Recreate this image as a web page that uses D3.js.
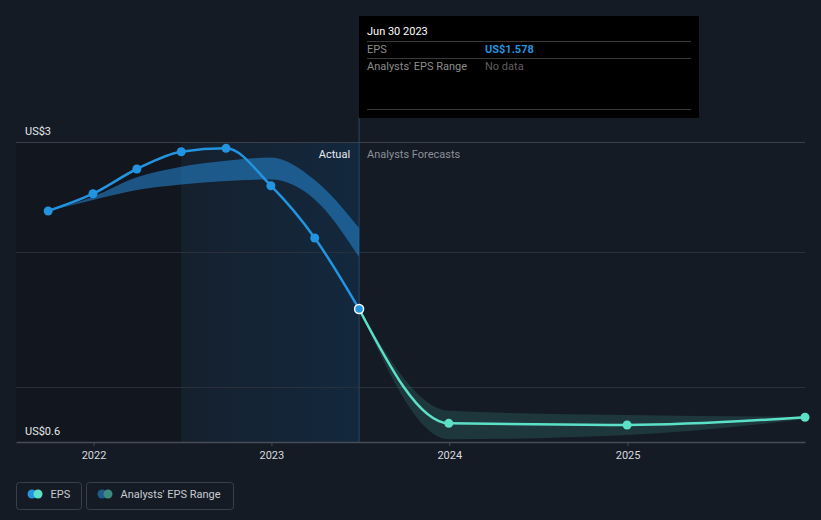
<!DOCTYPE html>
<html>
<head>
<meta charset="utf-8">
<script src="https://cdn.jsdelivr.net/npm/d3@7"></script>
<style>
  html, body { margin: 0; padding: 0; background: #151b25; }
  svg { display: block; font-family: Roboto, "Open Sans", sans-serif; }
</style>
</head>
<body>
<svg id="chart" width="821" height="520"></svg>
<script>
// ---------- data ----------
const pastDates = ["2021-09-30","2021-12-31","2022-03-31","2022-06-30","2022-09-30","2022-12-31","2023-03-31","2023-06-30"];
const pastEPS   = [2.304, 2.432, 2.615, 2.743, 2.768, 2.491, 2.104, 1.578];

const pastRangeDates = ["2021-09-30","2021-12-31","2022-03-31","2022-06-30","2022-09-30","2022-12-31","2023-03-31","2023-06-30"];
const pastRangeLow   = [2.304, 2.385, 2.459, 2.500, 2.526, 2.537, 2.390, 1.963];
const pastRangeHigh  = [2.304, 2.410, 2.553, 2.632, 2.676, 2.700, 2.533, 2.178];

const fcDates = ["2023-06-30","2023-12-31","2024-12-31","2025-12-31"];
const fcEPS   = [1.578, 0.731, 0.719, 0.776];
const fcLow   = [1.578, 0.613, 0.644, 0.761];
const fcHigh  = [1.578, 0.824, 0.793, 0.780];

const yTickValues = [2.815, 0.593];
const yTickLabels = ["US$3", "US$0.6"];
const gridValues  = [2, 1];
const xTickYears  = ["2022","2023","2024","2025"];

const tooltipDate = "Jun 30 2023";
const tooltipEPS  = "US$1.578";
const tooltipRange = "No data";

// ---------- setup ----------
const parse = d3.timeParse("%Y-%m-%d");
const svg = d3.select("#chart");
const W = 821, H = 520;
const pL = 16, pR = 805, pT = 142, pB = 442;

const x = d3.scaleTime()
  .domain([parse("2021-07-26"), parse("2025-12-31")])
  .range([pL, pR]);
const y = d3.scaleLinear()
  .domain([0.593, 2.815])
  .range([pB, pT]);

svg.append("rect").attr("width", W).attr("height", H).attr("fill", "#151b25");

const defs = svg.append("defs");
const grad = defs.append("linearGradient").attr("id", "hl").attr("x1", "0").attr("x2", "1").attr("y1", "0").attr("y2", "0");
grad.append("stop").attr("offset", "0%").attr("stop-color", "#15202d");
grad.append("stop").attr("offset", "100%").attr("stop-color", "#13283e");

const splitStart = parse("2022-06-30");
const nowDate = parse("2023-06-30");

// darker past region
svg.append("rect")
  .attr("x", pL).attr("y", pT)
  .attr("width", x(splitStart) - pL).attr("height", pB - pT)
  .attr("fill", "#12161e");
// highlighted last-year region
svg.append("rect")
  .attr("x", x(splitStart)).attr("y", pT)
  .attr("width", x(nowDate) - x(splitStart)).attr("height", pB - pT)
  .attr("fill", "url(#hl)");

// grid lines
svg.append("line").attr("x1", pL).attr("x2", pR).attr("y1", Math.round(y(2.815)) + 0.5).attr("y2", Math.round(y(2.815)) + 0.5)
  .attr("stroke", "#3a404a").attr("stroke-width", 1);
svg.selectAll("line.grid").data(gridValues).enter().append("line")
  .attr("class", "grid")
  .attr("x1", pL).attr("x2", pR)
  .attr("y1", d => Math.round(y(d)) + 0.5).attr("y2", d => Math.round(y(d)) + 0.5)
  .attr("stroke", "#2a303a").attr("stroke-width", 1);

// divider line
svg.append("line")
  .attr("x1", x(nowDate)).attr("x2", x(nowDate))
  .attr("y1", 117).attr("y2", pB)
  .attr("stroke", "#2b4563").attr("stroke-width", 1);

// x axis
const xAxis = d3.axisBottom(x)
  .tickValues(xTickYears.map(s => parse(s + "-01-01")))
  .tickFormat(d3.timeFormat("%Y"))
  .tickSize(4).tickSizeOuter(0);
const gx = svg.append("g").attr("transform", `translate(0,${pB})`).call(xAxis);
gx.select(".domain").attr("stroke", "#474d58").attr("stroke-width", 1.5);
gx.selectAll(".tick line").attr("stroke", "#474d58");
gx.selectAll(".tick text").attr("fill", "#d8dadf").attr("font-size", 11).attr("dy", "0.9em")
  .attr("font-family", "Roboto, sans-serif");

// y labels
svg.selectAll("text.ylab").data(yTickValues).enter().append("text")
  .attr("class", "ylab")
  .attr("x", 25)
  .attr("y", d => y(d) - 7)
  .attr("fill", "#e6e8eb").attr("font-size", 11)
  .text((d, i) => yTickLabels[i]);

// ---------- bands ----------
const pastBand = pastRangeDates.map((d, i) => ({ d: parse(d), lo: pastRangeLow[i], hi: pastRangeHigh[i] }));
const fcBand = fcDates.map((d, i) => ({ d: parse(d), lo: fcLow[i], hi: fcHigh[i] }));
const area = d3.area().x(p => x(p.d)).y0(p => y(p.lo)).y1(p => y(p.hi)).curve(d3.curveMonotoneX);

svg.append("path").datum(pastBand).attr("d", area).attr("fill", "#2380c8").attr("fill-opacity", 0.6);
svg.append("path").datum(fcBand).attr("d", area).attr("fill", "#4fc6b4").attr("fill-opacity", 0.17);

// ---------- lines ----------
const past = pastDates.map((d, i) => ({ d: parse(d), v: pastEPS[i] }));
const fc = fcDates.map((d, i) => ({ d: parse(d), v: fcEPS[i] }));
const line = d3.line().x(p => x(p.d)).y(p => y(p.v)).curve(d3.curveMonotoneX);

svg.append("path").datum(fc).attr("d", line).attr("fill", "none").attr("stroke", "#5ce1c8").attr("stroke-width", 2.5);
svg.append("path").datum(past).attr("d", line).attr("fill", "none").attr("stroke", "#2394df").attr("stroke-width", 2.5);

svg.selectAll("circle.fc").data(fc.slice(1)).enter().append("circle")
  .attr("cx", p => x(p.d)).attr("cy", p => y(p.v)).attr("r", 4.5).attr("fill", "#5ce1c8");
svg.selectAll("circle.past").data(past.slice(0, -1)).enter().append("circle")
  .attr("cx", p => x(p.d)).attr("cy", p => y(p.v)).attr("r", 4.5).attr("fill", "#2394df");
const last = past[past.length - 1];
svg.append("circle").attr("cx", x(last.d)).attr("cy", y(last.v)).attr("r", 4.5)
  .attr("fill", "#2394df").attr("stroke", "#ffffff").attr("stroke-width", 1.5);

// ---------- labels ----------
svg.append("text").attr("x", x(nowDate) - 9).attr("y", 158).attr("text-anchor", "end")
  .attr("fill", "#e8eaee").attr("font-size", 11).text("Actual");
svg.append("text").attr("x", x(nowDate) + 8).attr("y", 158)
  .attr("fill", "#8a9099").attr("font-size", 11).text("Analysts Forecasts");

// ---------- tooltip ----------
const tt = svg.append("g");
tt.append("rect").attr("x", 359).attr("y", 16).attr("width", 340).attr("height", 102).attr("fill", "#000000");
tt.append("text").attr("x", 367).attr("y", 35).attr("fill", "#ffffff").attr("font-size", 11).text(tooltipDate);
tt.append("line").attr("x1", 367).attr("x2", 691).attr("y1", 41.5).attr("y2", 41.5).attr("stroke", "#3a3a3a");
tt.append("text").attr("x", 367).attr("y", 53).attr("fill", "#8c8c8c").attr("font-size", 11).text("EPS");
tt.append("text").attr("x", 485).attr("y", 53).attr("fill", "#2394df").attr("font-size", 11).attr("font-weight", "bold").text(tooltipEPS);
tt.append("line").attr("x1", 367).attr("x2", 691).attr("y1", 58.5).attr("y2", 58.5).attr("stroke", "#3a3a3a");
tt.append("text").attr("x", 367).attr("y", 70).attr("fill", "#8c8c8c").attr("font-size", 11).text("Analysts' EPS Range");
tt.append("text").attr("x", 485).attr("y", 70).attr("fill", "#5f5f5f").attr("font-size", 11).text(tooltipRange);
tt.append("line").attr("x1", 367).attr("x2", 691).attr("y1", 109.5).attr("y2", 109.5).attr("stroke", "#3a3a3a");

// ---------- legend ----------
const legend = [
  { label: "EPS", c1: "#2394df", c2: "#5ce1c8", x0: 16.5, w: 65 },
  { label: "Analysts' EPS Range", c1: "#1f5a8a", c2: "#3c8a80", x0: 86.5, w: 147 }
];
const lg = svg.selectAll("g.lg").data(legend).enter().append("g").attr("class", "lg");
lg.append("rect").attr("x", d => d.x0).attr("y", 482.5).attr("width", d => d.w).attr("height", 27)
  .attr("rx", 3).attr("fill", "none").attr("stroke", "#3a404b");
lg.append("circle").attr("cx", d => d.x0 + 15.5).attr("cy", 494).attr("r", 4.5).attr("fill", d => d.c1);
lg.append("circle").attr("cx", d => d.x0 + 21.5).attr("cy", 494).attr("r", 4.5).attr("fill", d => d.c2);
lg.append("text").attr("x", d => d.x0 + 34).attr("y", 498).attr("fill", "#c8cbd0").attr("font-size", 11).text(d => d.label);
</script>
</body>
</html>
